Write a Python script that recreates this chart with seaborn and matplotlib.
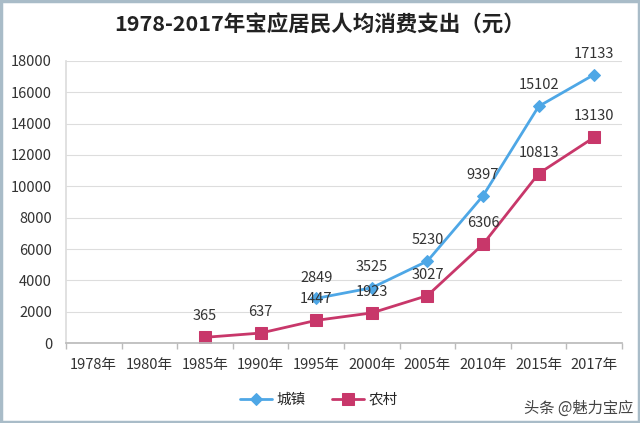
import numpy as np
import pandas as pd
import matplotlib
matplotlib.use("Agg")
import matplotlib.pyplot as plt
import seaborn as sns

# data
years = ["1978年", "1980年", "1985年", "1990年", "1995年", "2000年", "2005年", "2010年", "2015年", "2017年"]
urban = [np.nan, np.nan, np.nan, np.nan, 2849, 3525, 5230, 9397, 15102, 17133]
rural = [np.nan, np.nan, 365, 637, 1447, 1923, 3027, 6306, 10813, 13130]
series_names = ["城镇", "农村"]
colors = ["#4EA7E6", "#C8376A"]

sns.set_theme(style="white")
plt.rcParams['font.family'] = ['Noto Sans CJK SC', 'DejaVu Sans']

df = pd.DataFrame({"idx": range(len(years)), "year": years, "城镇": urban, "农村": rural})

fig = plt.figure(figsize=(6.4, 4.23), dpi=100)
ax = fig.add_axes([0.103, 0.189, 0.869, 0.667])

sns.lineplot(data=df, x="idx", y="城镇", color=colors[0], marker="D", markersize=6,
             markeredgecolor=colors[0], linewidth=2, label=series_names[0], ax=ax)
sns.lineplot(data=df, x="idx", y="农村", color=colors[1], marker="s", markersize=9,
             markeredgecolor=colors[1], linewidth=2, label=series_names[1], ax=ax)

# value labels
for col in series_names:
    for i, v in zip(df.idx, df[col]):
        if not np.isnan(v):
            ax.annotate(f"{int(v)}", (i, v), xytext=(0, 10), textcoords="offset points",
                        ha="center", va="bottom", fontsize=10.5, color="#333333")

ax.set_xlim(-0.5, len(years) - 0.5)
ax.set_ylim(0, 18000)
ax.set_yticks(range(0, 18001, 2000))
ax.set_xticks(range(len(years)))
ax.set_xticklabels(years)
ax.set_xticks(np.arange(-0.5, len(years), 1), minor=True)
ax.tick_params(axis="x", which="major", length=0, labelsize=10.5, colors="#333333", pad=11)
ax.tick_params(axis="x", which="minor", length=4, color="#BBBBBB", direction="out", bottom=True)
ax.tick_params(axis="y", length=0, labelsize=10.5, colors="#333333", pad=10)
ax.set_xlabel("")
ax.set_ylabel("")
ax.grid(axis="y", color="#DDDDDD", linewidth=0.8)
ax.set_axisbelow(True)
for s in ["top", "right"]:
    ax.spines[s].set_visible(False)
ax.spines["left"].set_color("#DDDDDD")
ax.spines["bottom"].set_color("#BBBBBB")

ax.legend(loc="upper center", bbox_to_anchor=(0.455, -0.13), ncol=2, frameon=False,
          fontsize=10.5, handlelength=2.2, columnspacing=1.8, handletextpad=0.3)

fig.text(0.5, 0.94, "1978-2017年宝应居民人均消费支出（元）", ha="center", va="center",
         fontsize=15.5, fontweight="bold", color="#222222")
fig.text(0.99, 0.035, "头条 @魅力宝应", ha="right", va="center", fontsize=11, color="#444444")

# light frame around the picture
fig.patches.append(plt.Rectangle((0.002, 0.003), 0.996, 0.994, transform=fig.transFigure,
                                 fill=False, edgecolor="#A9BCC8", linewidth=2.5))

fig.savefig("out.png", dpi=100)
